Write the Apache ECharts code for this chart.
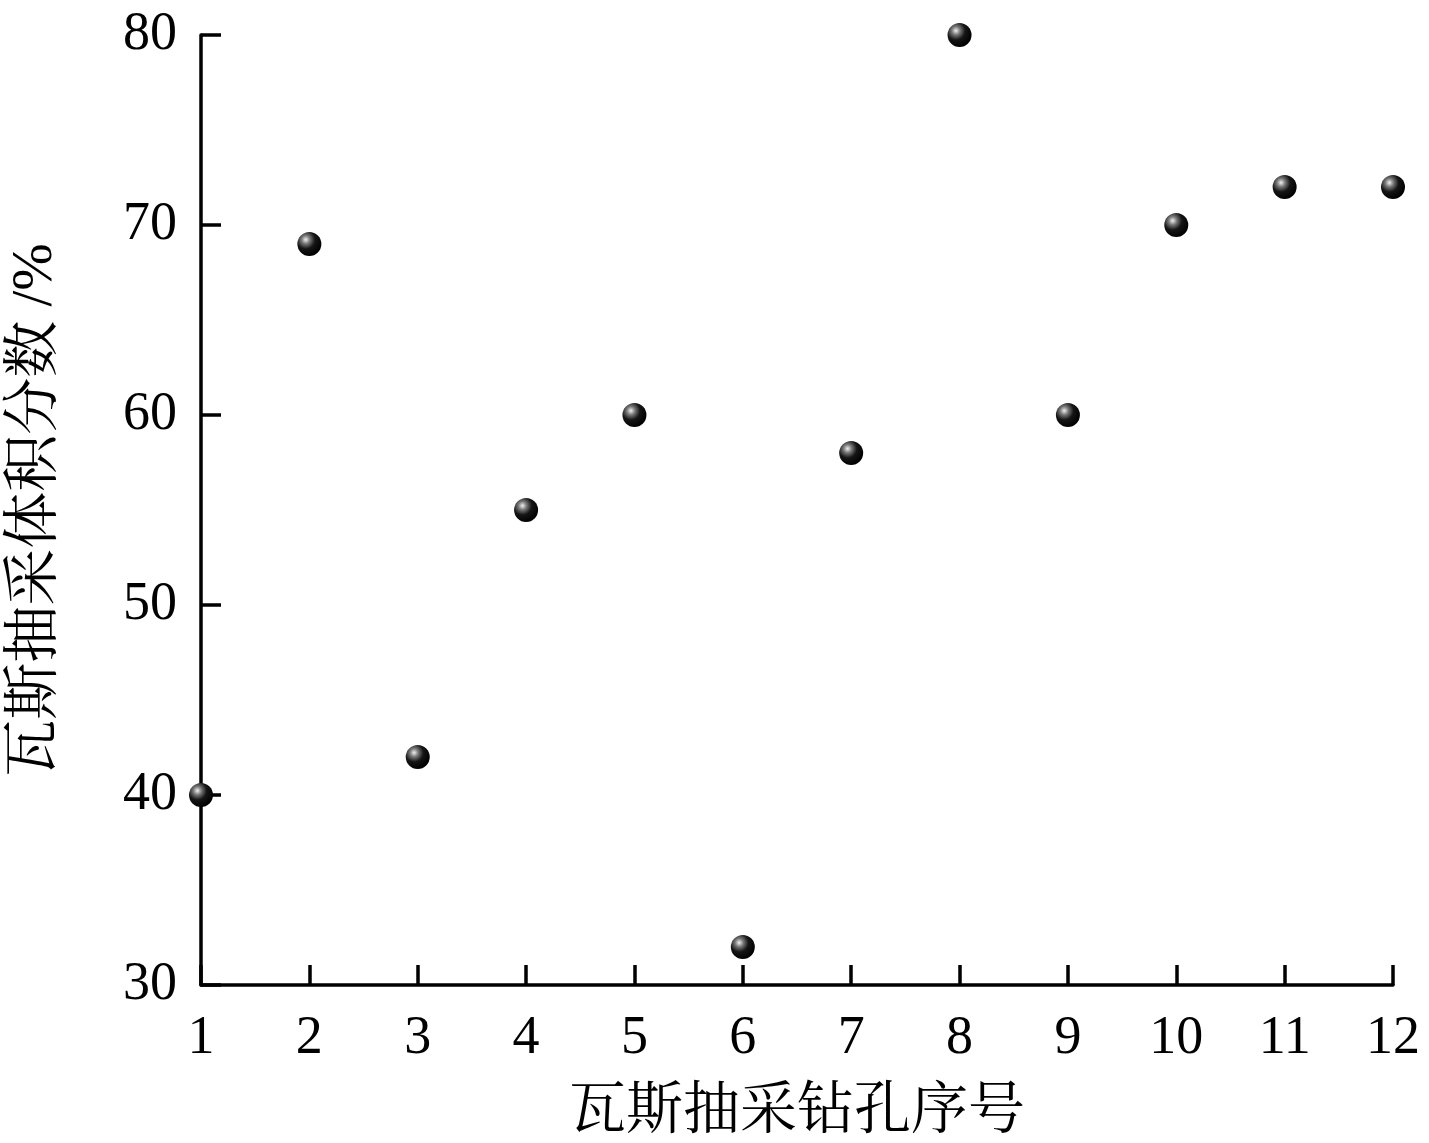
<!DOCTYPE html>
<html>
<head>
<meta charset="utf-8">
<script src="https://cdn.jsdelivr.net/npm/echarts@6/dist/echarts.min.js"></script>
<style>
  html, body { margin: 0; padding: 0; background: #fff; }
  #chart { width: 1429px; height: 1143px; }
</style>
</head>
<body>
<div id="chart"></div>
<script>
// 钻孔序号
const holeNo = [1, 2, 3, 4, 5, 6, 7, 8, 9, 10, 11, 12];
// 瓦斯抽采体积分数 /%
const gasFraction = [40, 69, 42, 55, 60, 32, 58, 80, 60, 70, 72, 72];

const fontFam = "'Liberation Serif', 'Noto Serif CJK SC', 'Noto Sans CJK SC', serif";

const chart = echarts.init(document.getElementById('chart'));

// 黑色小球的渐变
const ball = new echarts.graphic.RadialGradient(0.35, 0.32, 0.7, [
  { offset: 0, color: '#f0f0f0' },
  { offset: 0.25, color: '#777' },
  { offset: 0.55, color: '#151515' },
  { offset: 1, color: '#000' }
]);

const axisCommon = {
  axisLine: { show: true, lineStyle: { color: '#000', width: 3.5 } },
  axisTick: { show: true, inside: true, length: 20, lineStyle: { color: '#000', width: 3.5 } },
  splitLine: { show: false },
  axisLabel: { color: '#000', fontSize: 54, fontFamily: fontFam },
  nameTextStyle: { color: '#000', fontSize: 57, fontFamily: fontFam }
};

chart.setOption({
  animation: false,
  grid: { left: 201, right: 36, top: 35, bottom: 158, outerBoundsMode: 'none', containLabel: false },
  xAxis: Object.assign({}, axisCommon, {
    type: 'value',
    min: 1,
    max: 12,
    interval: 1,
    name: '瓦斯抽采钻孔序号',
    nameLocation: 'middle',
    nameGap: 100,
    axisLabel: Object.assign({}, axisCommon.axisLabel, { margin: 27 })
  }),
  yAxis: Object.assign({}, axisCommon, {
    type: 'value',
    min: 30,
    max: 80,
    interval: 10,
    name: '瓦斯抽采体积分数 /%',
    nameLocation: 'middle',
    nameGap: 136,
    axisLabel: Object.assign({}, axisCommon.axisLabel, { margin: 24 })
  }),
  series: [{
    type: 'scatter',
    data: holeNo.map((x, i) => [x, gasFraction[i]]),
    symbol: 'circle',
    symbolSize: 24,
    clip: false,
    itemStyle: { color: ball, opacity: 1 }
  }]
});
</script>
</body>
</html>
